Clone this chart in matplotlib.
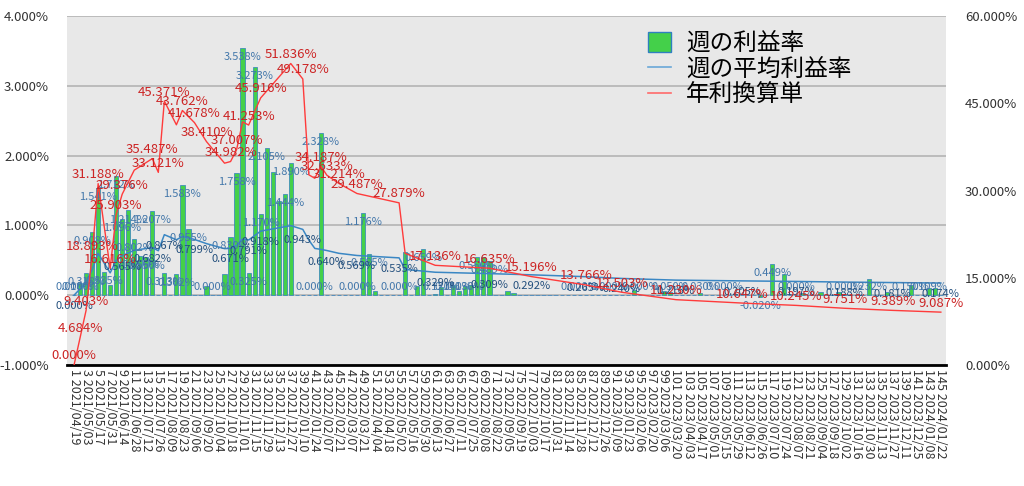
import matplotlib
matplotlib.use("Agg")
import matplotlib.pyplot as plt
import matplotlib.ticker as mtick
from matplotlib.patches import Patch
from matplotlib.lines import Line2D
import numpy as np
import pandas as pd

plt.rcParams['font.family'] = ['Noto Sans CJK JP', 'DejaVu Sans']

# weekly data (week 1 = 2021/04/19)
weeks = np.arange(1, 146)
dates = pd.date_range('2021-04-19', periods=145, freq='7D').strftime('%Y/%m/%d')

# 週の利益率 (%)
ret = [
    0.000, 0.180, 0.318, 0.908, 1.541, 0.335, 0.150, 1.712, 1.096, 1.214,   # 1-10
    0.802, 0.556, 0.550, 1.207, 0.000, 0.313, 0.000, 0.302, 1.583, 0.955,   # 11-20
    0.000, 0.000, 0.130, 0.000, 0.000, 0.310, 0.830, 1.758, 3.538, 0.325,   # 21-30
    3.273, 1.170, 2.105, 1.771, 1.352, 1.444, 1.890, 0.000, 0.000, 0.000,   # 31-40
    0.000, 2.328, 0.000, 0.000, 0.000, 0.000, 0.000, 0.000, 1.176, 0.585,   # 41-50
    0.060, 0.000, 0.000, 0.000, 0.000, 0.620, 0.000, 0.130, 0.659, 0.000,   # 51-60
    0.020, 0.120, 0.000, 0.140, 0.060, 0.130, 0.150, 0.550, 0.550, 0.489,   # 61-70
    0.000, 0.000, 0.060, 0.030, 0.000, 0.000, 0.000, 0.000, 0.000, 0.000,   # 71-80
    0.000, 0.000, 0.000, 0.000, 0.000, 0.000, 0.000, 0.000, 0.000, 0.000,   # 81-90
    0.000, 0.000, 0.000, 0.072, 0.000, 0.000, 0.000, 0.000, 0.060, 0.050,   # 91-100
    0.000, 0.000, 0.000, 0.000, 0.030, 0.000, 0.000, 0.000, 0.000, 0.000,   # 101-110
    0.000, 0.000, 0.000, 0.000, -0.020, 0.000, 0.449, 0.000, 0.310, 0.000,  # 111-120
    0.000, 0.030, 0.000, 0.000, 0.040, 0.000, 0.000, 0.050, 0.000, 0.000,   # 121-130
    0.000, 0.000, 0.232, 0.000, 0.000, 0.050, 0.000, 0.000, 0.000, 0.150,   # 131-140
    0.000, 0.000, 0.109, 0.100, 0.000,                                      # 141-145
]
ret_label_weeks = [1, 2, 3, 4, 5, 6, 8, 9, 10, 11, 12, 13, 14, 16, 18, 19, 20, 24,
                   27, 28, 29, 30, 31, 32, 33, 36, 37, 41, 42, 48, 49, 50, 55, 59,
                   62, 64, 66, 68, 70, 85, 90, 95, 100, 105, 109, 115, 117, 121,
                   129, 133, 140, 143]

# 週の平均利益率 (%)
avg_weeks = [1, 2, 3, 4, 5, 7, 8, 9, 11, 14, 15, 16, 18, 19, 21, 23, 26, 27, 28, 29,
             30, 32, 37, 39, 40, 41, 42, 43, 45, 48, 55, 56, 61, 70, 77, 86, 92, 101,
             112, 121, 129, 137, 145]
avg_vals = [0.000, 0.090, 0.181, 0.363, 0.600, 0.320, 0.498, 0.565, 0.644, 0.682,
            0.637, 0.867, 0.794, 0.842, 0.799, 0.739, 0.667, 0.671, 0.712, 0.804,
            0.791, 0.918, 0.997, 0.943, 0.790, 0.670, 0.657, 0.640, 0.600, 0.569,
            0.535, 0.369, 0.329, 0.309, 0.292, 0.265, 0.240, 0.216, 0.205, 0.197,
            0.188, 0.181, 0.174]
avg_label_weeks = [1, 9, 14, 16, 21, 27, 30, 32, 39, 43, 48, 55, 61, 70, 77, 86, 92,
                   101, 112, 121, 129, 137, 145]

# 年利換算単 (%)
ann_weeks = avg_weeks
ann_vals = [0.000, 4.684, 9.403, 18.893, 31.188, 16.616, 25.903, 29.376, 33.500, 35.487,
            33.121, 45.371, 41.300, 43.762, 41.678, 38.410, 34.700, 34.982, 37.007, 41.800,
            41.253, 45.916, 51.836, 49.178, 32.700, 32.100, 34.187, 32.633, 31.214, 29.487,
            27.879, 19.200, 17.136, 16.635, 15.196, 13.766, 12.503, 11.230, 10.647, 10.245,
            9.751, 9.389, 9.087]
ann_nolabel = [11, 18, 26, 29, 40, 41, 56]

GREEN = '#44d04a'
BAR_EDGE = '#2f7fc0'
BLUE = '#3a87c4'
RED = '#ff3b3b'

fig = plt.figure(figsize=(10.24, 4.86), dpi=100)
ax = fig.add_axes([0.0655, 0.249, 0.858, 0.718])
ax.set_facecolor('#e8e8e8')

ax.bar(weeks, ret, width=0.7, color=GREEN, edgecolor=BAR_EDGE, linewidth=0.5, zorder=3)
ax.plot(avg_weeks, avg_vals, color=BLUE, lw=1.1, zorder=4)

for w in ret_label_weeks:
    v = ret[w - 1]
    y = max(v - 0.13, 0.12) if v >= 0 else v - 0.13
    ax.text(w, y, f'{v:.3f}%', ha='center', va='center', fontsize=8,
            color='#4377aa', zorder=5)

for w, v in zip(avg_weeks, avg_vals):
    if w in avg_label_weeks:
        ax.annotate(f'{v:.3f}%', (w, v), xytext=(0, -11), textcoords='offset pixels',
                    ha='center', va='center', fontsize=8, color='#234f7d', zorder=6)

ax.set_xlim(-0.16, 145.8)
ax.set_ylim(-1, 4)
ax.yaxis.set_major_locator(mtick.MultipleLocator(1))
ax.yaxis.set_major_formatter(mtick.FuncFormatter(lambda v, p: f'{v:.3f}%'))
ax.grid(axis='y', color='#b4b4b4', lw=1.2, zorder=0)
for s in ['top', 'right', 'left']:
    ax.spines[s].set_visible(False)
ax.spines['bottom'].set_color('black')
ax.spines['bottom'].set_linewidth(2)
ax.tick_params(axis='y', length=0, labelsize=9.5, labelcolor='#333333', pad=13)

odd = weeks[::2]
ax.set_xticks(odd)
ax.set_xticklabels([f'{w} {dates[w - 1]}' for w in odd], rotation=-90, fontsize=9,
                   color='#333333')
ax.tick_params(axis='x', length=0, pad=3)

ax2 = ax.twinx()
ax2.plot(ann_weeks, ann_vals, color=RED, lw=1.0, zorder=5)
for w, v in zip(ann_weeks, ann_vals):
    if w not in ann_nolabel:
        ax2.annotate(f'{v:.3f}%', (w, v), xytext=(0, 9), textcoords='offset pixels',
                     ha='center', va='center', fontsize=9.5, color='#cc2424', zorder=6)
ax2.set_ylim(0, 60)
ax2.yaxis.set_major_locator(mtick.MultipleLocator(15))
ax2.yaxis.set_major_formatter(mtick.FuncFormatter(lambda v, p: f'{v:.3f}%'))
for s in ax2.spines.values():
    s.set_visible(False)
ax2.tick_params(axis='y', length=0, labelsize=9.5, labelcolor='#333333', pad=14)

handles = [Patch(facecolor=GREEN, edgecolor=BAR_EDGE, linewidth=1),
           Line2D([], [], color='#6aa8d8', lw=1.2),
           Line2D([], [], color='#ff6a6a', lw=1.2)]
labels = ['週の利益率', '週の平均利益率', '年利換算単']
ax2.legend(handles, labels, loc='upper left', bbox_to_anchor=(0.633, 0.934),
           bbox_transform=fig.transFigure, frameon=False, fontsize=17,
           handlelength=0.95, handleheight=0.9, handletextpad=0.65,
           labelspacing=0.12, borderpad=0, borderaxespad=0)

fig.savefig('out.png', dpi=100)
